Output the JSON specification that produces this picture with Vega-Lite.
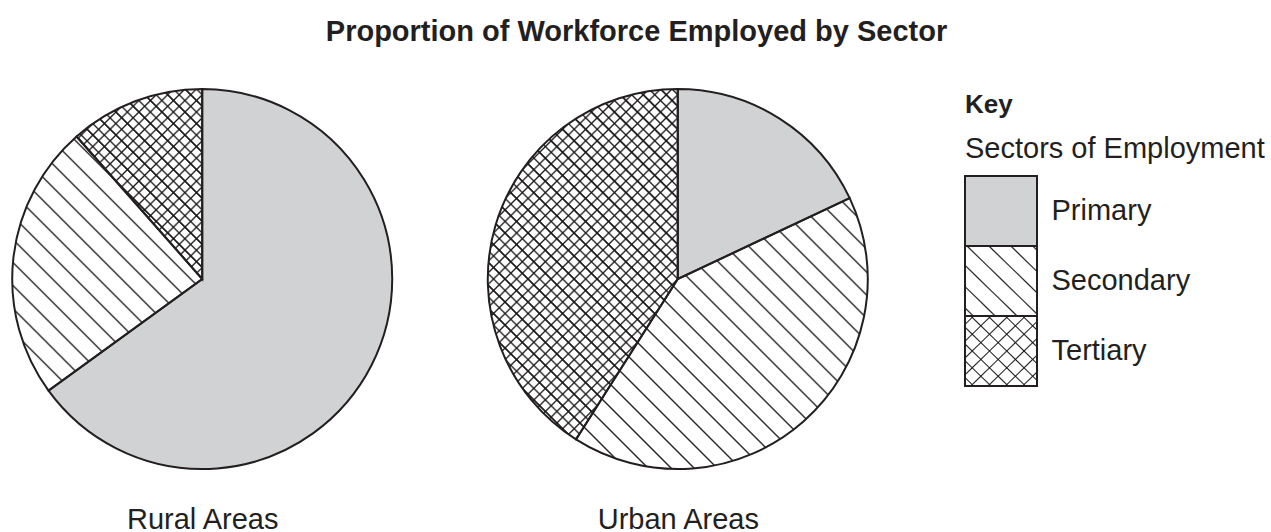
{
"$schema":"https://vega.github.io/schema/vega-lite/v6.json",
"padding":{"left":8,"top":18,"right":0,"bottom":0},
"background":"white",
"config":{"view":{"stroke":null},"font":"Liberation Sans"},
"title":{"text":"Proportion of Workforce Employed by Sector","fontSize":29,"fontWeight":"bold","font":"Liberation Sans","color":"#231f20","offset":38,"anchor":"middle"},
"data":{"values":[
{"area":"Rural Areas","sector":"Primary","share":65},
{"area":"Rural Areas","sector":"Secondary","share":23.5},
{"area":"Rural Areas","sector":"Tertiary","share":11.5},
{"area":"Urban Areas","sector":"Primary","share":18},
{"area":"Urban Areas","sector":"Secondary","share":41},
{"area":"Urban Areas","sector":"Tertiary","share":41}
]},
"spacing":97,
"bounds":"flush",
"hconcat":[
{
"width":856,"height":380,
"transform":[{"stack":"share","groupby":["area"],"sort":[{"field":"sector","order":"ascending"}],"as":["t0","t1"]}],
"encoding":{"x":{"field":"area","type":"nominal","sort":["Rural Areas","Urban Areas"],"scale":{"type":"point","padding":0.4},"axis":{"title":null,"domain":false,"ticks":false,"tickSize":0,"grid":false,"labelAngle":0,"labelPadding":36,"labelFontSize":29,"labelFont":"Liberation Sans","labelColor":"#231f20"}}},
"layer":[
{"transform":[{"filter":"datum.sector === 'Primary'"}],
"mark":{"type":"arc","theta":0,"theta2":6.2832,"radius":190,"fill":{"gradient":"linear","x1":0,"y1":1,"x2":1,"y2":0,"stops":[
{"offset":0.1491,"color":"rgba(0,0,0,0)"},{"offset":0.1515,"color":"#231f20"},{"offset":0.1539,"color":"rgba(0,0,0,0)"},
{"offset":0.1643,"color":"rgba(0,0,0,0)"},{"offset":0.1667,"color":"#231f20"},{"offset":0.1691,"color":"rgba(0,0,0,0)"},
{"offset":0.1794,"color":"rgba(0,0,0,0)"},{"offset":0.1818,"color":"#231f20"},{"offset":0.1842,"color":"rgba(0,0,0,0)"},
{"offset":0.1946,"color":"rgba(0,0,0,0)"},{"offset":0.1970,"color":"#231f20"},{"offset":0.1994,"color":"rgba(0,0,0,0)"},
{"offset":0.2097,"color":"rgba(0,0,0,0)"},{"offset":0.2121,"color":"#231f20"},{"offset":0.2145,"color":"rgba(0,0,0,0)"},
{"offset":0.2249,"color":"rgba(0,0,0,0)"},{"offset":0.2273,"color":"#231f20"},{"offset":0.2297,"color":"rgba(0,0,0,0)"},
{"offset":0.2400,"color":"rgba(0,0,0,0)"},{"offset":0.2424,"color":"#231f20"},{"offset":0.2448,"color":"rgba(0,0,0,0)"},
{"offset":0.2552,"color":"rgba(0,0,0,0)"},{"offset":0.2576,"color":"#231f20"},{"offset":0.2600,"color":"rgba(0,0,0,0)"},
{"offset":0.2703,"color":"rgba(0,0,0,0)"},{"offset":0.2727,"color":"#231f20"},{"offset":0.2751,"color":"rgba(0,0,0,0)"},
{"offset":0.2855,"color":"rgba(0,0,0,0)"},{"offset":0.2879,"color":"#231f20"},{"offset":0.2903,"color":"rgba(0,0,0,0)"},
{"offset":0.3006,"color":"rgba(0,0,0,0)"},{"offset":0.3030,"color":"#231f20"},{"offset":0.3054,"color":"rgba(0,0,0,0)"},
{"offset":0.3158,"color":"rgba(0,0,0,0)"},{"offset":0.3182,"color":"#231f20"},{"offset":0.3206,"color":"rgba(0,0,0,0)"},
{"offset":0.3309,"color":"rgba(0,0,0,0)"},{"offset":0.3333,"color":"#231f20"},{"offset":0.3357,"color":"rgba(0,0,0,0)"},
{"offset":0.3461,"color":"rgba(0,0,0,0)"},{"offset":0.3485,"color":"#231f20"},{"offset":0.3509,"color":"rgba(0,0,0,0)"},
{"offset":0.3612,"color":"rgba(0,0,0,0)"},{"offset":0.3636,"color":"#231f20"},{"offset":0.3660,"color":"rgba(0,0,0,0)"},
{"offset":0.3764,"color":"rgba(0,0,0,0)"},{"offset":0.3788,"color":"#231f20"},{"offset":0.3812,"color":"rgba(0,0,0,0)"},
{"offset":0.3915,"color":"rgba(0,0,0,0)"},{"offset":0.3939,"color":"#231f20"},{"offset":0.3963,"color":"rgba(0,0,0,0)"},
{"offset":0.4067,"color":"rgba(0,0,0,0)"},{"offset":0.4091,"color":"#231f20"},{"offset":0.4115,"color":"rgba(0,0,0,0)"},
{"offset":0.4218,"color":"rgba(0,0,0,0)"},{"offset":0.4242,"color":"#231f20"},{"offset":0.4266,"color":"rgba(0,0,0,0)"},
{"offset":0.4370,"color":"rgba(0,0,0,0)"},{"offset":0.4394,"color":"#231f20"},{"offset":0.4418,"color":"rgba(0,0,0,0)"},
{"offset":0.4521,"color":"rgba(0,0,0,0)"},{"offset":0.4545,"color":"#231f20"},{"offset":0.4569,"color":"rgba(0,0,0,0)"},
{"offset":0.4673,"color":"rgba(0,0,0,0)"},{"offset":0.4697,"color":"#231f20"},{"offset":0.4721,"color":"rgba(0,0,0,0)"},
{"offset":0.4824,"color":"rgba(0,0,0,0)"},{"offset":0.4848,"color":"#231f20"},{"offset":0.4872,"color":"rgba(0,0,0,0)"},
{"offset":0.4976,"color":"rgba(0,0,0,0)"},{"offset":0.5000,"color":"#231f20"},{"offset":0.5024,"color":"rgba(0,0,0,0)"},
{"offset":0.5128,"color":"rgba(0,0,0,0)"},{"offset":0.5152,"color":"#231f20"},{"offset":0.5176,"color":"rgba(0,0,0,0)"},
{"offset":0.5279,"color":"rgba(0,0,0,0)"},{"offset":0.5303,"color":"#231f20"},{"offset":0.5327,"color":"rgba(0,0,0,0)"},
{"offset":0.5431,"color":"rgba(0,0,0,0)"},{"offset":0.5455,"color":"#231f20"},{"offset":0.5479,"color":"rgba(0,0,0,0)"},
{"offset":0.5582,"color":"rgba(0,0,0,0)"},{"offset":0.5606,"color":"#231f20"},{"offset":0.5630,"color":"rgba(0,0,0,0)"},
{"offset":0.5734,"color":"rgba(0,0,0,0)"},{"offset":0.5758,"color":"#231f20"},{"offset":0.5782,"color":"rgba(0,0,0,0)"},
{"offset":0.5885,"color":"rgba(0,0,0,0)"},{"offset":0.5909,"color":"#231f20"},{"offset":0.5933,"color":"rgba(0,0,0,0)"},
{"offset":0.6037,"color":"rgba(0,0,0,0)"},{"offset":0.6061,"color":"#231f20"},{"offset":0.6085,"color":"rgba(0,0,0,0)"},
{"offset":0.6188,"color":"rgba(0,0,0,0)"},{"offset":0.6212,"color":"#231f20"},{"offset":0.6236,"color":"rgba(0,0,0,0)"},
{"offset":0.6340,"color":"rgba(0,0,0,0)"},{"offset":0.6364,"color":"#231f20"},{"offset":0.6388,"color":"rgba(0,0,0,0)"},
{"offset":0.6491,"color":"rgba(0,0,0,0)"},{"offset":0.6515,"color":"#231f20"},{"offset":0.6539,"color":"rgba(0,0,0,0)"},
{"offset":0.6643,"color":"rgba(0,0,0,0)"},{"offset":0.6667,"color":"#231f20"},{"offset":0.6691,"color":"rgba(0,0,0,0)"},
{"offset":0.6794,"color":"rgba(0,0,0,0)"},{"offset":0.6818,"color":"#231f20"},{"offset":0.6842,"color":"rgba(0,0,0,0)"},
{"offset":0.6946,"color":"rgba(0,0,0,0)"},{"offset":0.6970,"color":"#231f20"},{"offset":0.6994,"color":"rgba(0,0,0,0)"},
{"offset":0.7097,"color":"rgba(0,0,0,0)"},{"offset":0.7121,"color":"#231f20"},{"offset":0.7145,"color":"rgba(0,0,0,0)"},
{"offset":0.7249,"color":"rgba(0,0,0,0)"},{"offset":0.7273,"color":"#231f20"},{"offset":0.7297,"color":"rgba(0,0,0,0)"},
{"offset":0.7400,"color":"rgba(0,0,0,0)"},{"offset":0.7424,"color":"#231f20"},{"offset":0.7448,"color":"rgba(0,0,0,0)"},
{"offset":0.7552,"color":"rgba(0,0,0,0)"},{"offset":0.7576,"color":"#231f20"},{"offset":0.7600,"color":"rgba(0,0,0,0)"},
{"offset":0.7703,"color":"rgba(0,0,0,0)"},{"offset":0.7727,"color":"#231f20"},{"offset":0.7751,"color":"rgba(0,0,0,0)"},
{"offset":0.7855,"color":"rgba(0,0,0,0)"},{"offset":0.7879,"color":"#231f20"},{"offset":0.7903,"color":"rgba(0,0,0,0)"},
{"offset":0.8006,"color":"rgba(0,0,0,0)"},{"offset":0.8030,"color":"#231f20"},{"offset":0.8054,"color":"rgba(0,0,0,0)"},
{"offset":0.8158,"color":"rgba(0,0,0,0)"},{"offset":0.8182,"color":"#231f20"},{"offset":0.8206,"color":"rgba(0,0,0,0)"},
{"offset":0.8309,"color":"rgba(0,0,0,0)"},{"offset":0.8333,"color":"#231f20"},{"offset":0.8357,"color":"rgba(0,0,0,0)"},
{"offset":0.8461,"color":"rgba(0,0,0,0)"},{"offset":0.8485,"color":"#231f20"},{"offset":0.8509,"color":"rgba(0,0,0,0)"}
]}}},
{"transform":[{"filter":"datum.sector === 'Primary'"}],
"mark":{"type":"arc","theta":0,"theta2":6.2832,"radius":190,"fill":{"gradient":"linear","x1":0,"y1":0,"x2":1,"y2":1,"stops":[
{"offset":0.1491,"color":"rgba(0,0,0,0)"},{"offset":0.1515,"color":"#231f20"},{"offset":0.1539,"color":"rgba(0,0,0,0)"},
{"offset":0.1643,"color":"rgba(0,0,0,0)"},{"offset":0.1667,"color":"#231f20"},{"offset":0.1691,"color":"rgba(0,0,0,0)"},
{"offset":0.1794,"color":"rgba(0,0,0,0)"},{"offset":0.1818,"color":"#231f20"},{"offset":0.1842,"color":"rgba(0,0,0,0)"},
{"offset":0.1946,"color":"rgba(0,0,0,0)"},{"offset":0.1970,"color":"#231f20"},{"offset":0.1994,"color":"rgba(0,0,0,0)"},
{"offset":0.2097,"color":"rgba(0,0,0,0)"},{"offset":0.2121,"color":"#231f20"},{"offset":0.2145,"color":"rgba(0,0,0,0)"},
{"offset":0.2249,"color":"rgba(0,0,0,0)"},{"offset":0.2273,"color":"#231f20"},{"offset":0.2297,"color":"rgba(0,0,0,0)"},
{"offset":0.2400,"color":"rgba(0,0,0,0)"},{"offset":0.2424,"color":"#231f20"},{"offset":0.2448,"color":"rgba(0,0,0,0)"},
{"offset":0.2552,"color":"rgba(0,0,0,0)"},{"offset":0.2576,"color":"#231f20"},{"offset":0.2600,"color":"rgba(0,0,0,0)"},
{"offset":0.2703,"color":"rgba(0,0,0,0)"},{"offset":0.2727,"color":"#231f20"},{"offset":0.2751,"color":"rgba(0,0,0,0)"},
{"offset":0.2855,"color":"rgba(0,0,0,0)"},{"offset":0.2879,"color":"#231f20"},{"offset":0.2903,"color":"rgba(0,0,0,0)"},
{"offset":0.3006,"color":"rgba(0,0,0,0)"},{"offset":0.3030,"color":"#231f20"},{"offset":0.3054,"color":"rgba(0,0,0,0)"},
{"offset":0.3158,"color":"rgba(0,0,0,0)"},{"offset":0.3182,"color":"#231f20"},{"offset":0.3206,"color":"rgba(0,0,0,0)"},
{"offset":0.3309,"color":"rgba(0,0,0,0)"},{"offset":0.3333,"color":"#231f20"},{"offset":0.3357,"color":"rgba(0,0,0,0)"},
{"offset":0.3461,"color":"rgba(0,0,0,0)"},{"offset":0.3485,"color":"#231f20"},{"offset":0.3509,"color":"rgba(0,0,0,0)"},
{"offset":0.3612,"color":"rgba(0,0,0,0)"},{"offset":0.3636,"color":"#231f20"},{"offset":0.3660,"color":"rgba(0,0,0,0)"},
{"offset":0.3764,"color":"rgba(0,0,0,0)"},{"offset":0.3788,"color":"#231f20"},{"offset":0.3812,"color":"rgba(0,0,0,0)"},
{"offset":0.3915,"color":"rgba(0,0,0,0)"},{"offset":0.3939,"color":"#231f20"},{"offset":0.3963,"color":"rgba(0,0,0,0)"},
{"offset":0.4067,"color":"rgba(0,0,0,0)"},{"offset":0.4091,"color":"#231f20"},{"offset":0.4115,"color":"rgba(0,0,0,0)"},
{"offset":0.4218,"color":"rgba(0,0,0,0)"},{"offset":0.4242,"color":"#231f20"},{"offset":0.4266,"color":"rgba(0,0,0,0)"},
{"offset":0.4370,"color":"rgba(0,0,0,0)"},{"offset":0.4394,"color":"#231f20"},{"offset":0.4418,"color":"rgba(0,0,0,0)"},
{"offset":0.4521,"color":"rgba(0,0,0,0)"},{"offset":0.4545,"color":"#231f20"},{"offset":0.4569,"color":"rgba(0,0,0,0)"},
{"offset":0.4673,"color":"rgba(0,0,0,0)"},{"offset":0.4697,"color":"#231f20"},{"offset":0.4721,"color":"rgba(0,0,0,0)"},
{"offset":0.4824,"color":"rgba(0,0,0,0)"},{"offset":0.4848,"color":"#231f20"},{"offset":0.4872,"color":"rgba(0,0,0,0)"},
{"offset":0.4976,"color":"rgba(0,0,0,0)"},{"offset":0.5000,"color":"#231f20"},{"offset":0.5024,"color":"rgba(0,0,0,0)"},
{"offset":0.5128,"color":"rgba(0,0,0,0)"},{"offset":0.5152,"color":"#231f20"},{"offset":0.5176,"color":"rgba(0,0,0,0)"},
{"offset":0.5279,"color":"rgba(0,0,0,0)"},{"offset":0.5303,"color":"#231f20"},{"offset":0.5327,"color":"rgba(0,0,0,0)"},
{"offset":0.5431,"color":"rgba(0,0,0,0)"},{"offset":0.5455,"color":"#231f20"},{"offset":0.5479,"color":"rgba(0,0,0,0)"},
{"offset":0.5582,"color":"rgba(0,0,0,0)"},{"offset":0.5606,"color":"#231f20"},{"offset":0.5630,"color":"rgba(0,0,0,0)"},
{"offset":0.5734,"color":"rgba(0,0,0,0)"},{"offset":0.5758,"color":"#231f20"},{"offset":0.5782,"color":"rgba(0,0,0,0)"},
{"offset":0.5885,"color":"rgba(0,0,0,0)"},{"offset":0.5909,"color":"#231f20"},{"offset":0.5933,"color":"rgba(0,0,0,0)"},
{"offset":0.6037,"color":"rgba(0,0,0,0)"},{"offset":0.6061,"color":"#231f20"},{"offset":0.6085,"color":"rgba(0,0,0,0)"},
{"offset":0.6188,"color":"rgba(0,0,0,0)"},{"offset":0.6212,"color":"#231f20"},{"offset":0.6236,"color":"rgba(0,0,0,0)"},
{"offset":0.6340,"color":"rgba(0,0,0,0)"},{"offset":0.6364,"color":"#231f20"},{"offset":0.6388,"color":"rgba(0,0,0,0)"},
{"offset":0.6491,"color":"rgba(0,0,0,0)"},{"offset":0.6515,"color":"#231f20"},{"offset":0.6539,"color":"rgba(0,0,0,0)"},
{"offset":0.6643,"color":"rgba(0,0,0,0)"},{"offset":0.6667,"color":"#231f20"},{"offset":0.6691,"color":"rgba(0,0,0,0)"},
{"offset":0.6794,"color":"rgba(0,0,0,0)"},{"offset":0.6818,"color":"#231f20"},{"offset":0.6842,"color":"rgba(0,0,0,0)"},
{"offset":0.6946,"color":"rgba(0,0,0,0)"},{"offset":0.6970,"color":"#231f20"},{"offset":0.6994,"color":"rgba(0,0,0,0)"},
{"offset":0.7097,"color":"rgba(0,0,0,0)"},{"offset":0.7121,"color":"#231f20"},{"offset":0.7145,"color":"rgba(0,0,0,0)"},
{"offset":0.7249,"color":"rgba(0,0,0,0)"},{"offset":0.7273,"color":"#231f20"},{"offset":0.7297,"color":"rgba(0,0,0,0)"},
{"offset":0.7400,"color":"rgba(0,0,0,0)"},{"offset":0.7424,"color":"#231f20"},{"offset":0.7448,"color":"rgba(0,0,0,0)"},
{"offset":0.7552,"color":"rgba(0,0,0,0)"},{"offset":0.7576,"color":"#231f20"},{"offset":0.7600,"color":"rgba(0,0,0,0)"},
{"offset":0.7703,"color":"rgba(0,0,0,0)"},{"offset":0.7727,"color":"#231f20"},{"offset":0.7751,"color":"rgba(0,0,0,0)"},
{"offset":0.7855,"color":"rgba(0,0,0,0)"},{"offset":0.7879,"color":"#231f20"},{"offset":0.7903,"color":"rgba(0,0,0,0)"},
{"offset":0.8006,"color":"rgba(0,0,0,0)"},{"offset":0.8030,"color":"#231f20"},{"offset":0.8054,"color":"rgba(0,0,0,0)"},
{"offset":0.8158,"color":"rgba(0,0,0,0)"},{"offset":0.8182,"color":"#231f20"},{"offset":0.8206,"color":"rgba(0,0,0,0)"},
{"offset":0.8309,"color":"rgba(0,0,0,0)"},{"offset":0.8333,"color":"#231f20"},{"offset":0.8357,"color":"rgba(0,0,0,0)"},
{"offset":0.8461,"color":"rgba(0,0,0,0)"},{"offset":0.8485,"color":"#231f20"},{"offset":0.8509,"color":"rgba(0,0,0,0)"}
]}}},
{"mark":{"type":"arc","radius":190},
"encoding":{"theta":{"field":"t0","type":"quantitative","scale":{"domain":[0,100]}},"theta2":{"field":"t1"},
"fill":{"condition":[{"test":"datum.sector === 'Primary'","value":"#d1d2d4"},{"test":"datum.sector === 'Secondary'","value":"white"}],"value":"transparent"}}},
{"transform":[{"filter":"datum.sector === 'Primary'"}],
"mark":{"type":"arc","theta":0,"theta2":6.2832,"radius":190,"fill":{"gradient":"linear","x1":0,"y1":1,"x2":1,"y2":0,"stops":[
{"offset":0.1491,"color":"rgba(0,0,0,0)"},{"offset":0.1515,"color":"#231f20"},{"offset":0.1539,"color":"rgba(0,0,0,0)"},
{"offset":0.1794,"color":"rgba(0,0,0,0)"},{"offset":0.1818,"color":"#231f20"},{"offset":0.1842,"color":"rgba(0,0,0,0)"},
{"offset":0.2097,"color":"rgba(0,0,0,0)"},{"offset":0.2121,"color":"#231f20"},{"offset":0.2145,"color":"rgba(0,0,0,0)"},
{"offset":0.2400,"color":"rgba(0,0,0,0)"},{"offset":0.2424,"color":"#231f20"},{"offset":0.2448,"color":"rgba(0,0,0,0)"},
{"offset":0.2703,"color":"rgba(0,0,0,0)"},{"offset":0.2727,"color":"#231f20"},{"offset":0.2751,"color":"rgba(0,0,0,0)"},
{"offset":0.3006,"color":"rgba(0,0,0,0)"},{"offset":0.3030,"color":"#231f20"},{"offset":0.3054,"color":"rgba(0,0,0,0)"},
{"offset":0.3309,"color":"rgba(0,0,0,0)"},{"offset":0.3333,"color":"#231f20"},{"offset":0.3357,"color":"rgba(0,0,0,0)"},
{"offset":0.3612,"color":"rgba(0,0,0,0)"},{"offset":0.3636,"color":"#231f20"},{"offset":0.3660,"color":"rgba(0,0,0,0)"},
{"offset":0.3915,"color":"rgba(0,0,0,0)"},{"offset":0.3939,"color":"#231f20"},{"offset":0.3963,"color":"rgba(0,0,0,0)"},
{"offset":0.4218,"color":"rgba(0,0,0,0)"},{"offset":0.4242,"color":"#231f20"},{"offset":0.4266,"color":"rgba(0,0,0,0)"},
{"offset":0.4521,"color":"rgba(0,0,0,0)"},{"offset":0.4545,"color":"#231f20"},{"offset":0.4569,"color":"rgba(0,0,0,0)"},
{"offset":0.4824,"color":"rgba(0,0,0,0)"},{"offset":0.4848,"color":"#231f20"},{"offset":0.4872,"color":"rgba(0,0,0,0)"},
{"offset":0.5128,"color":"rgba(0,0,0,0)"},{"offset":0.5152,"color":"#231f20"},{"offset":0.5176,"color":"rgba(0,0,0,0)"},
{"offset":0.5431,"color":"rgba(0,0,0,0)"},{"offset":0.5455,"color":"#231f20"},{"offset":0.5479,"color":"rgba(0,0,0,0)"},
{"offset":0.5734,"color":"rgba(0,0,0,0)"},{"offset":0.5758,"color":"#231f20"},{"offset":0.5782,"color":"rgba(0,0,0,0)"},
{"offset":0.6037,"color":"rgba(0,0,0,0)"},{"offset":0.6061,"color":"#231f20"},{"offset":0.6085,"color":"rgba(0,0,0,0)"},
{"offset":0.6340,"color":"rgba(0,0,0,0)"},{"offset":0.6364,"color":"#231f20"},{"offset":0.6388,"color":"rgba(0,0,0,0)"},
{"offset":0.6643,"color":"rgba(0,0,0,0)"},{"offset":0.6667,"color":"#231f20"},{"offset":0.6691,"color":"rgba(0,0,0,0)"},
{"offset":0.6946,"color":"rgba(0,0,0,0)"},{"offset":0.6970,"color":"#231f20"},{"offset":0.6994,"color":"rgba(0,0,0,0)"},
{"offset":0.7249,"color":"rgba(0,0,0,0)"},{"offset":0.7273,"color":"#231f20"},{"offset":0.7297,"color":"rgba(0,0,0,0)"},
{"offset":0.7552,"color":"rgba(0,0,0,0)"},{"offset":0.7576,"color":"#231f20"},{"offset":0.7600,"color":"rgba(0,0,0,0)"},
{"offset":0.7855,"color":"rgba(0,0,0,0)"},{"offset":0.7879,"color":"#231f20"},{"offset":0.7903,"color":"rgba(0,0,0,0)"},
{"offset":0.8158,"color":"rgba(0,0,0,0)"},{"offset":0.8182,"color":"#231f20"},{"offset":0.8206,"color":"rgba(0,0,0,0)"},
{"offset":0.8461,"color":"rgba(0,0,0,0)"},{"offset":0.8485,"color":"#231f20"},{"offset":0.8509,"color":"rgba(0,0,0,0)"}
]}}},
{"mark":{"type":"arc","radius":190,"stroke":"#231f20","strokeWidth":2},
"encoding":{"theta":{"field":"t0","type":"quantitative","scale":{"domain":[0,100]}},"theta2":{"field":"t1"},
"fill":{"condition":{"test":"datum.sector === 'Primary'","value":"#d1d2d4"},"value":"transparent"}}}
]
},
{
"width":72,"height":380,
"transform":[{"filter":"datum.area === 'Rural Areas'"}],
"title":{"text":"Key","subtitle":"Sectors of Employment","anchor":"start","frame":"group","orient":"top","offset":-75,"fontSize":26,"fontWeight":"bold","font":"Liberation Sans","color":"#231f20","subtitleFontSize":29,"subtitleFont":"Liberation Sans","subtitleColor":"#231f20","subtitlePadding":17},
"encoding":{"y":{"field":"sector","type":"nominal","sort":["Primary","Secondary","Tertiary"],"scale":{"range":[87,297],"paddingInner":0,"paddingOuter":0},"axis":{"orient":"right","title":null,"domain":false,"ticks":false,"tickSize":0,"grid":false,"labelPadding":14,"labelFontSize":29,"labelFont":"Liberation Sans","labelColor":"#231f20"}}},
"layer":[
{"transform":[{"filter":"datum.sector === 'Primary'"}],"mark":{"type":"rect","fill":"#d1d2d4"}},
{"transform":[{"filter":"datum.sector === 'Secondary'"}],"mark":{"type":"rect","fill":{"gradient":"linear","x1":0,"y1":1,"x2":1,"y2":0,"stops":[
{"offset":0.047,"color":"rgba(0,0,0,0)"},{"offset":0.058,"color":"#231f20"},{"offset":0.069,"color":"rgba(0,0,0,0)"},
{"offset":0.199,"color":"rgba(0,0,0,0)"},{"offset":0.210,"color":"#231f20"},{"offset":0.221,"color":"rgba(0,0,0,0)"},
{"offset":0.351,"color":"rgba(0,0,0,0)"},{"offset":0.362,"color":"#231f20"},{"offset":0.373,"color":"rgba(0,0,0,0)"},
{"offset":0.503,"color":"rgba(0,0,0,0)"},{"offset":0.514,"color":"#231f20"},{"offset":0.525,"color":"rgba(0,0,0,0)"},
{"offset":0.655,"color":"rgba(0,0,0,0)"},{"offset":0.666,"color":"#231f20"},{"offset":0.677,"color":"rgba(0,0,0,0)"},
{"offset":0.807,"color":"rgba(0,0,0,0)"},{"offset":0.818,"color":"#231f20"},{"offset":0.829,"color":"rgba(0,0,0,0)"},
{"offset":0.959,"color":"rgba(0,0,0,0)"},{"offset":0.970,"color":"#231f20"},{"offset":0.981,"color":"rgba(0,0,0,0)"}
]}}},
{"transform":[{"filter":"datum.sector === 'Tertiary'"}],"mark":{"type":"rect","fill":{"gradient":"linear","x1":0,"y1":1,"x2":1,"y2":0,"stops":[
{"offset":0.05,"color":"rgba(0,0,0,0)"},{"offset":0.06,"color":"#231f20"},{"offset":0.07,"color":"rgba(0,0,0,0)"},
{"offset":0.17,"color":"rgba(0,0,0,0)"},{"offset":0.18,"color":"#231f20"},{"offset":0.19,"color":"rgba(0,0,0,0)"},
{"offset":0.29,"color":"rgba(0,0,0,0)"},{"offset":0.30,"color":"#231f20"},{"offset":0.31,"color":"rgba(0,0,0,0)"},
{"offset":0.41,"color":"rgba(0,0,0,0)"},{"offset":0.42,"color":"#231f20"},{"offset":0.43,"color":"rgba(0,0,0,0)"},
{"offset":0.53,"color":"rgba(0,0,0,0)"},{"offset":0.54,"color":"#231f20"},{"offset":0.55,"color":"rgba(0,0,0,0)"},
{"offset":0.65,"color":"rgba(0,0,0,0)"},{"offset":0.66,"color":"#231f20"},{"offset":0.67,"color":"rgba(0,0,0,0)"},
{"offset":0.77,"color":"rgba(0,0,0,0)"},{"offset":0.78,"color":"#231f20"},{"offset":0.79,"color":"rgba(0,0,0,0)"},
{"offset":0.89,"color":"rgba(0,0,0,0)"},{"offset":0.90,"color":"#231f20"},{"offset":0.91,"color":"rgba(0,0,0,0)"}
]}}},
{"transform":[{"filter":"datum.sector === 'Tertiary'"}],"mark":{"type":"rect","fill":{"gradient":"linear","x1":0,"y1":0,"x2":1,"y2":1,"stops":[
{"offset":0.05,"color":"rgba(0,0,0,0)"},{"offset":0.06,"color":"#231f20"},{"offset":0.07,"color":"rgba(0,0,0,0)"},
{"offset":0.17,"color":"rgba(0,0,0,0)"},{"offset":0.18,"color":"#231f20"},{"offset":0.19,"color":"rgba(0,0,0,0)"},
{"offset":0.29,"color":"rgba(0,0,0,0)"},{"offset":0.30,"color":"#231f20"},{"offset":0.31,"color":"rgba(0,0,0,0)"},
{"offset":0.41,"color":"rgba(0,0,0,0)"},{"offset":0.42,"color":"#231f20"},{"offset":0.43,"color":"rgba(0,0,0,0)"},
{"offset":0.53,"color":"rgba(0,0,0,0)"},{"offset":0.54,"color":"#231f20"},{"offset":0.55,"color":"rgba(0,0,0,0)"},
{"offset":0.65,"color":"rgba(0,0,0,0)"},{"offset":0.66,"color":"#231f20"},{"offset":0.67,"color":"rgba(0,0,0,0)"},
{"offset":0.77,"color":"rgba(0,0,0,0)"},{"offset":0.78,"color":"#231f20"},{"offset":0.79,"color":"rgba(0,0,0,0)"},
{"offset":0.89,"color":"rgba(0,0,0,0)"},{"offset":0.90,"color":"#231f20"},{"offset":0.91,"color":"rgba(0,0,0,0)"}
]}}},
{"mark":{"type":"rect","fill":"transparent","stroke":"#231f20","strokeWidth":2}}
]
}
]
}
